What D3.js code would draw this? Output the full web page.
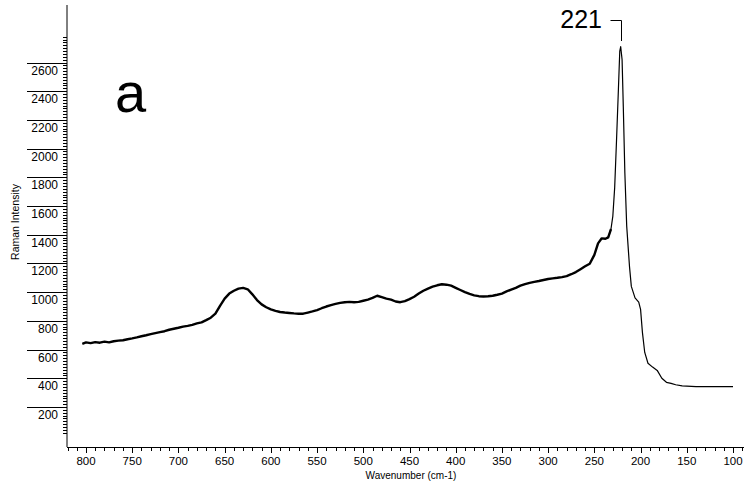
<!DOCTYPE html>
<html>
<head>
<meta charset="utf-8">
<script src="https://cdn.jsdelivr.net/npm/d3@7"></script>
<style>
  html, body { margin: 0; padding: 0; background: #fff; }
  svg { display: block; font-family: "Liberation Sans", Arial, sans-serif; }
</style>
</head>
<body>
<svg id="chart" width="744" height="483"></svg>
<script>
// ---- data ----
const wavenumbers = [
  804, 800, 795, 790, 785, 780, 775, 770, 765, 760, 755, 750, 745, 740, 735, 730, 725, 720, 715, 710,
  705, 700, 695, 690, 685, 680, 675, 670, 665, 660, 655, 650, 645, 640, 635, 630, 625, 620, 615, 610,
  605, 600, 595, 590, 585, 580, 575, 570, 565, 560, 555, 550, 545, 540, 535, 530, 525, 520, 515, 510,
  505, 500, 495, 490, 485, 480, 475, 470, 465, 460, 455, 450, 445, 440, 435, 430, 425, 420, 415, 410,
  405, 400, 395, 390, 385, 380, 375, 370, 365, 360, 355, 350, 345, 340, 335, 330, 325, 320, 315, 310,
  305, 300, 295, 290, 285, 280, 275, 270, 265, 260, 255, 250, 246, 242, 238, 235, 232, 230, 228, 226,
  224, 222.5, 221.5, 220, 218.7, 217, 215, 212, 210, 206, 202, 200, 198, 195.5, 192, 187, 182, 177, 172, 167,
  162, 155, 140, 120, 100
];
const intensity = [
  640, 650, 645, 652, 648, 655, 650, 658, 662, 665, 672, 678, 685, 693, 700, 708, 715, 722, 728, 738,
  745, 752, 760, 765, 772, 782, 790, 805, 822, 850, 905, 955, 990, 1010, 1025, 1030, 1020, 985, 945, 915,
  895, 880, 870, 862, 858, 855, 852, 850, 850, 858, 866, 875, 888, 900, 910, 918, 925, 930, 932, 930,
  932, 940, 948, 960, 975, 965, 955, 948, 935, 930, 938, 952, 968, 990, 1010, 1025, 1038, 1048, 1055, 1052,
  1045, 1030, 1015, 1000, 988, 978, 972, 970, 972, 975, 982, 990, 1005, 1018, 1030, 1045, 1056, 1065, 1072, 1078,
  1085, 1092, 1096, 1100, 1105, 1112, 1125, 1140, 1160, 1180, 1198, 1260, 1340, 1375, 1372, 1382, 1440, 1530, 1730, 2060,
  2410, 2680, 2710, 2620, 2295, 1830, 1460, 1180, 1040, 960, 930, 880, 720, 580, 505, 478, 455, 400, 372, 365,
  355, 347, 342, 342, 342
];
const xTickValues = [800, 750, 700, 650, 600, 550, 500, 450, 400, 350, 300, 250, 200, 150, 100];
const yTickValues = [200, 400, 600, 800, 1000, 1200, 1400, 1600, 1800, 2000, 2200, 2400, 2600];
const xTitle = "Wavenumber (cm-1)";
const yTitle = "Raman Intensity";
const panelLabel = "a";
const peakLabel = "221";
const peakPosition = 221.5;

// ---- layout ----
const svg = d3.select("#chart");
const x = d3.scaleLinear().domain([800, 100]).range([86, 733]);
const y = d3.scaleLinear().domain([0, 2600]).range([435.7, 62.5]);
const axisX0 = 67, axisY0 = 447;

const data = wavenumbers.map((w, i) => ({ w, v: intensity[i] }));

// axes lines
svg.append("line").attr("x1", axisX0).attr("x2", axisX0).attr("y1", 5).attr("y2", axisY0)
  .attr("stroke", "#000").attr("stroke-width", 1);
svg.append("line").attr("x1", axisX0).attr("x2", 744).attr("y1", axisY0 + 0.5).attr("y2", axisY0 + 0.5)
  .attr("stroke", "#000").attr("stroke-width", 1);

// x ticks (minor every 10, major every 50)
const xMinor = d3.range(820, 85, -10).filter(v => v % 50 !== 0);
svg.append("g").selectAll("line").data(xMinor).join("line")
  .attr("x1", d => Math.round(x(d)) + 0.5).attr("x2", d => Math.round(x(d)) + 0.5)
  .attr("y1", axisY0).attr("y2", axisY0 + 4)
  .attr("stroke", "#000").attr("stroke-width", 1);
svg.append("g").selectAll("line").data(xTickValues).join("line")
  .attr("x1", d => Math.round(x(d)) + 0.5).attr("x2", d => Math.round(x(d)) + 0.5)
  .attr("y1", axisY0).attr("y2", axisY0 + 6)
  .attr("stroke", "#000").attr("stroke-width", 1);
svg.append("g").selectAll("text").data(xTickValues).join("text")
  .attr("x", d => x(d)).attr("y", 465)
  .attr("text-anchor", "middle").attr("font-size", 11.5).attr("fill", "#000")
  .text(d => d);

// y ticks (minor every 20, major every 200 drawn as long lines with labels beneath)
const yMinor = d3.range(20, 2800, 20).filter(v => v % 200 !== 0);
svg.append("g").selectAll("line").data(yMinor).join("line")
  .attr("x1", axisX0 - 4).attr("x2", axisX0)
  .attr("y1", d => Math.round(y(d)) + 0.5).attr("y2", d => Math.round(y(d)) + 0.5)
  .attr("stroke", "#000").attr("stroke-width", 1);
svg.append("g").selectAll("line").data(yTickValues).join("line")
  .attr("x1", 27).attr("x2", axisX0)
  .attr("y1", d => Math.round(y(d)) + 0.5).attr("y2", d => Math.round(y(d)) + 0.5)
  .attr("stroke", "#000").attr("stroke-width", 1);
svg.append("g").selectAll("text").data(yTickValues).join("text")
  .attr("x", 58).attr("y", d => y(d) + 12)
  .attr("text-anchor", "end").attr("font-size", 12).attr("fill", "#000")
  .text(d => d);

// axis titles
svg.append("text").attr("x", 411).attr("y", 479)
  .attr("text-anchor", "middle").attr("font-size", 10).attr("fill", "#000").text(xTitle);
svg.append("text").attr("transform", "translate(19,222) rotate(-90)")
  .attr("text-anchor", "middle").attr("font-size", 10.5).attr("fill", "#000").text(yTitle);

// spectrum
const line = d3.line().x(d => x(d.w)).y(d => y(d.v));
svg.append("path").datum(data.filter(d => d.w >= 232))
  .attr("d", line).attr("fill", "none").attr("stroke", "#000").attr("stroke-width", 2.4)
  .attr("stroke-linejoin", "round");
svg.append("path").datum(data.filter(d => d.w <= 235))
  .attr("d", line).attr("fill", "none").attr("stroke", "#000").attr("stroke-width", 1.2)
  .attr("stroke-linejoin", "round");

// panel label
svg.append("text").attr("x", 115).attr("y", 112)
  .attr("font-size", 56).attr("fill", "#000").text(panelLabel);

// peak annotation
const px = Math.round(x(peakPosition)) + 0.5;
svg.append("text").attr("x", 602).attr("y", 28)
  .attr("text-anchor", "end").attr("font-size", 25).attr("fill", "#000").text(peakLabel);
svg.append("path")
  .attr("d", `M${px - 11},20.5 H${px} V41`)
  .attr("fill", "none").attr("stroke", "#000").attr("stroke-width", 1);
</script>
</body>
</html>
